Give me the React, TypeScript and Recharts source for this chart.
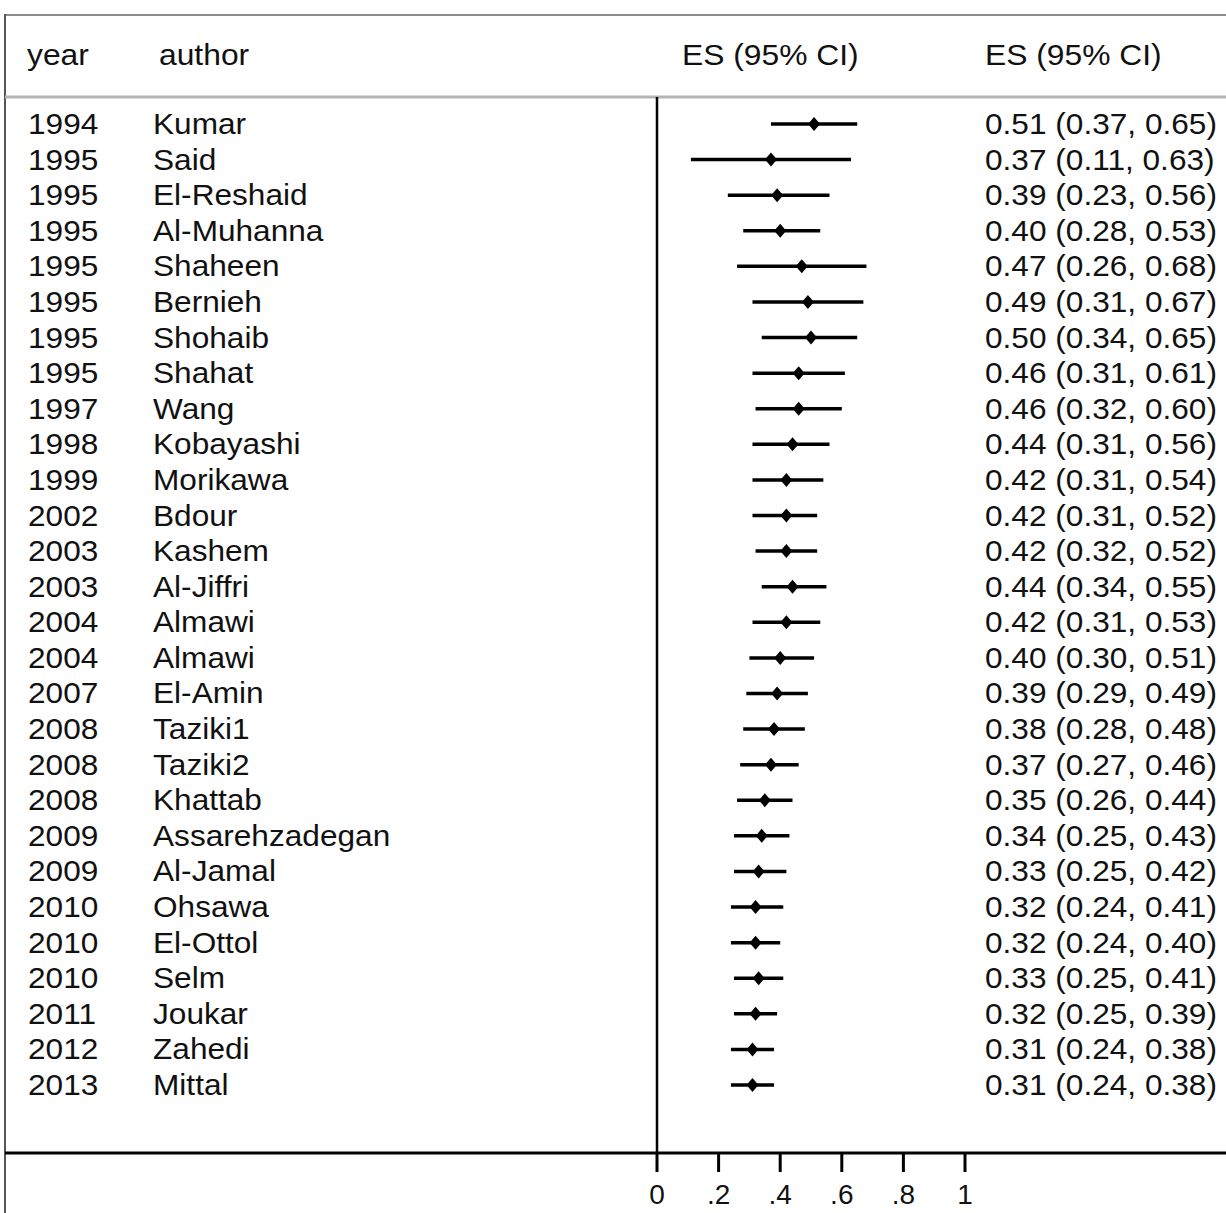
import React from 'react';
import { ScatterChart, Scatter, XAxis, YAxis, ErrorBar, ReferenceLine } from 'recharts';

const years = [
  1994, 1995, 1995, 1995, 1995, 1995, 1995, 1995, 1997, 1998, 1999, 2002, 2003, 2003,
  2004, 2004, 2007, 2008, 2008, 2008, 2009, 2009, 2010, 2010, 2010, 2011, 2012, 2013,
];
const authors = [
  'Kumar', 'Said', 'El-Reshaid', 'Al-Muhanna', 'Shaheen', 'Bernieh', 'Shohaib', 'Shahat',
  'Wang', 'Kobayashi', 'Morikawa', 'Bdour', 'Kashem', 'Al-Jiffri', 'Almawi', 'Almawi',
  'El-Amin', 'Taziki1', 'Taziki2', 'Khattab', 'Assarehzadegan', 'Al-Jamal', 'Ohsawa',
  'El-Ottol', 'Selm', 'Joukar', 'Zahedi', 'Mittal',
];
const es = [
  0.51, 0.37, 0.39, 0.40, 0.47, 0.49, 0.50, 0.46, 0.46, 0.44, 0.42, 0.42, 0.42, 0.44,
  0.42, 0.40, 0.39, 0.38, 0.37, 0.35, 0.34, 0.33, 0.32, 0.32, 0.33, 0.32, 0.31, 0.31,
];
const ciLow = [
  0.37, 0.11, 0.23, 0.28, 0.26, 0.31, 0.34, 0.31, 0.32, 0.31, 0.31, 0.31, 0.32, 0.34,
  0.31, 0.30, 0.29, 0.28, 0.27, 0.26, 0.25, 0.25, 0.24, 0.24, 0.25, 0.25, 0.24, 0.24,
];
const ciHigh = [
  0.65, 0.63, 0.56, 0.53, 0.68, 0.67, 0.65, 0.61, 0.60, 0.56, 0.54, 0.52, 0.52, 0.55,
  0.53, 0.51, 0.49, 0.48, 0.46, 0.44, 0.43, 0.42, 0.41, 0.40, 0.41, 0.39, 0.38, 0.38,
];
const xTicks = [0, 0.2, 0.4, 0.6, 0.8, 1];
const headers = ['year', 'author', 'ES (95% CI)', 'ES (95% CI)'];

const W = 1226;
const H = 1213;
const FONT = "Arial, 'Liberation Sans', sans-serif";
const INK = '#111';

// row index 1..n, drawn top to bottom
const rows = es.map((v, i) => ({
  idx: i + 1,
  es: v,
  err: [+(v - ciLow[i]).toFixed(3), +(ciHigh[i] - v).toFixed(3)],
}));
const rowTicks = rows.map((r) => r.idx);

const fmt = (v: number) => v.toFixed(2);
const fmtTick = (v: number) => (v === 0 ? '0' : v === 1 ? '1' : String(v).replace(/^0/, ''));

const StretchText = ({ x, y, text, size = 29, sx = 1.09 }: { x: number; y: number; text: string; size?: number; sx?: number }) => (
  <g transform={`translate(${x},${y}) scale(${sx},1)`}>
    <text x={0} y={0} fontSize={size} fontFamily={FONT} fill={INK}>
      {text}
    </text>
  </g>
);

const RowLabel = (props: any) => {
  const { y, payload } = props;
  const i = payload.value - 1;
  if (i < 0 || i >= years.length) return null;
  const base = y + 10;
  return (
    <g>
      <StretchText x={28} y={base} text={String(years[i])} />
      <StretchText x={153} y={base} text={authors[i]} />
      <StretchText x={985} y={base} text={`${fmt(es[i])} (${fmt(ciLow[i])}, ${fmt(ciHigh[i])})`} />
    </g>
  );
};

const AxisTick = (props: any) => {
  const { x, y, payload } = props;
  return (
    <text x={x} y={y + 30} textAnchor="middle" fontSize={28} fontFamily={FONT} fill={INK}>
      {fmtTick(payload.value)}
    </text>
  );
};

const Diamond = (props: any) => {
  const { cx, cy } = props;
  return <polygon points={`${cx - 6},${cy} ${cx},${cy - 7} ${cx + 6},${cy} ${cx},${cy + 7}`} fill="#000" />;
};

export default function App() {
  return (
    <div style={{ position: 'absolute', left: 0, top: 0, width: W, height: H, background: '#fff' }}>
      <svg width={W} height={H} style={{ position: 'absolute', left: 0, top: 0 }}>
        <line x1={5} y1={15} x2={W} y2={15} stroke="#8c8c8c" strokeWidth={2} />
        <line x1={5} y1={14} x2={5} y2={H} stroke="#555" strokeWidth={2} />
        <line x1={5} y1={97} x2={W} y2={97} stroke="#b4b4b4" strokeWidth={3} />
        <StretchText x={27} y={65} text={headers[0]} size={30} sx={1.06} />
        <StretchText x={159} y={65} text={headers[1]} size={30} sx={1.06} />
        <StretchText x={682} y={65} text={headers[2]} size={30} sx={1.06} />
        <StretchText x={985} y={65} text={headers[3]} size={30} sx={1.06} />
      </svg>
      <div style={{ position: 'absolute', left: 0, top: 0 }}>
        <ScatterChart width={W} height={H} margin={{ top: 97, right: 0, bottom: 0, left: 5 }}>
          <XAxis
            type="number"
            dataKey="es"
            domain={[(5 - 657) / 308, (W - 657) / 308]}
            allowDataOverflow
            ticks={xTicks}
            interval={0}
            height={60}
            tickSize={19}
            axisLine={{ stroke: '#000', strokeWidth: 3 }}
            tickLine={{ stroke: '#000', strokeWidth: 3 }}
            tick={<AxisTick />}
          />
          <YAxis
            type="number"
            dataKey="idx"
            domain={[0.2414, 29.91]}
            allowDataOverflow
            reversed
            mirror
            ticks={rowTicks}
            interval={0}
            axisLine={false}
            tickLine={false}
            tick={<RowLabel />}
          />
          <ReferenceLine x={0} stroke="#000" strokeWidth={2.5} />
          <Scatter data={rows} shape={<Diamond />} isAnimationActive={false}>
            <ErrorBar dataKey="err" direction="x" width={0} stroke="#000" strokeWidth={3.5} isAnimationActive={false} />
          </Scatter>
        </ScatterChart>
      </div>
    </div>
  );
}
